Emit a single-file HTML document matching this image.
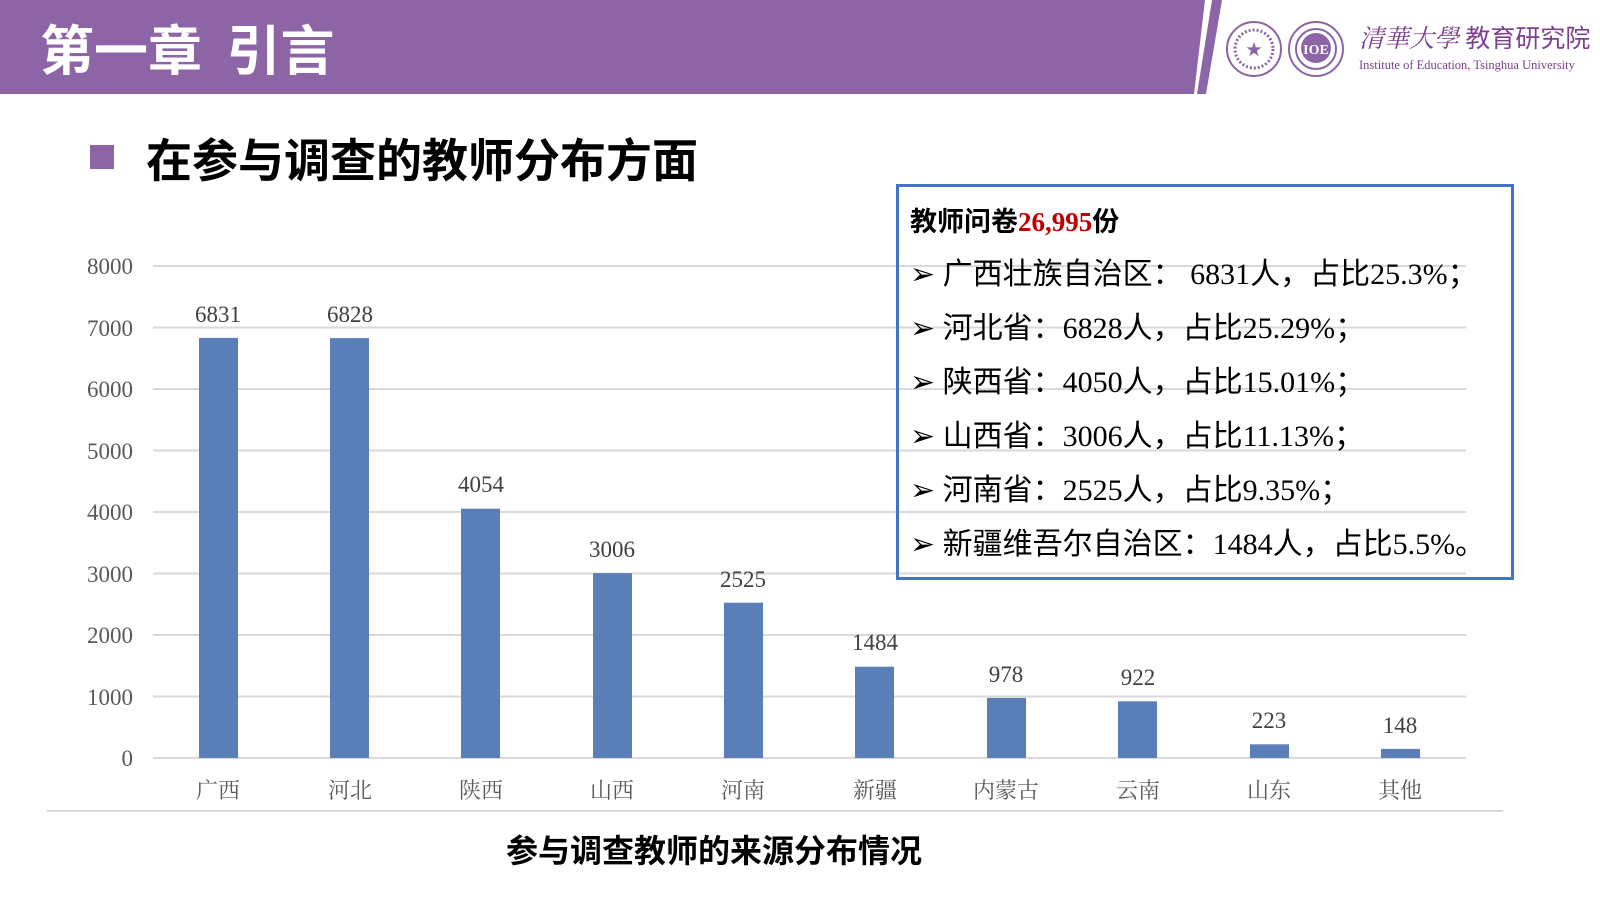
<!DOCTYPE html>
<html><head><meta charset="utf-8">
<style>
body{margin:0;width:1600px;height:900px;background:#fff;overflow:hidden;position:relative;font-family:"Liberation Sans","Noto Sans CJK SC",sans-serif}
.abs{position:absolute;white-space:nowrap}
</style></head><body>
<svg class="abs" style="left:0;top:0" width="1600" height="900">
<polygon points="0,0 1205,0 1194,94 0,94" fill="#8d64a5"/>
<polygon points="1212,0 1222,0 1206,94 1197,94" fill="#8d64a5"/>
<g stroke="#d9d9d9" stroke-width="2">
<line x1="153" x2="1466" y1="266" y2="266"/>
<line x1="153" x2="1466" y1="327.5" y2="327.5"/>
<line x1="153" x2="1466" y1="389" y2="389"/>
<line x1="153" x2="1466" y1="450.5" y2="450.5"/>
<line x1="153" x2="1466" y1="512" y2="512"/>
<line x1="153" x2="1466" y1="573.5" y2="573.5"/>
<line x1="153" x2="1466" y1="635" y2="635"/>
<line x1="153" x2="1466" y1="696.5" y2="696.5"/>
<line x1="153" x2="1466" y1="758" y2="758"/>
<line x1="47" x2="1503" y1="811" y2="811"/>
</g>
<g fill="#5a7fb8">
<rect x="199" y="337.9" width="39" height="420.1"/>
<rect x="330" y="338.1" width="39" height="419.9"/>
<rect x="461" y="508.7" width="39" height="249.3"/>
<rect x="593" y="573.1" width="39" height="184.9"/>
<rect x="724" y="602.7" width="39" height="155.3"/>
<rect x="855" y="666.7" width="39" height="91.3"/>
<rect x="987" y="697.9" width="39" height="60.1"/>
<rect x="1118" y="701.3" width="39" height="56.7"/>
<rect x="1250" y="744.3" width="39" height="13.7"/>
<rect x="1381" y="748.9" width="39" height="9.1"/>
</g>
<g font-family="Liberation Serif, serif" font-size="23" fill="#404040" text-anchor="middle">
<text x="218" y="322">6831</text><text x="350" y="322">6828</text><text x="481" y="492">4054</text>
<text x="612" y="557">3006</text><text x="743" y="587">2525</text><text x="875" y="650">1484</text>
<text x="1006" y="682">978</text><text x="1138" y="685">922</text><text x="1269" y="728">223</text><text x="1400" y="733">148</text>
</g>
<g font-family="Liberation Serif, serif" font-size="23" fill="#595959" text-anchor="end">
<text x="133" y="274">8000</text><text x="133" y="336">7000</text><text x="133" y="397">6000</text>
<text x="133" y="459">5000</text><text x="133" y="520">4000</text><text x="133" y="582">3000</text>
<text x="133" y="643">2000</text><text x="133" y="705">1000</text><text x="133" y="766">0</text>
</g>
<g font-family="Noto Serif CJK SC, serif" font-size="22" fill="#595959" text-anchor="middle">
<text x="218" y="798">广西</text><text x="350" y="798">河北</text><text x="481" y="798">陕西</text>
<text x="612" y="798">山西</text><text x="743" y="798">河南</text><text x="875" y="798">新疆</text>
<text x="1006" y="798">内蒙古</text><text x="1138" y="798">云南</text><text x="1269" y="798">山东</text><text x="1400" y="798">其他</text>
</g>
<rect x="897.5" y="185.5" width="615" height="393" fill="none" stroke="#4472c4" stroke-width="3"/>
<g fill="none" stroke="#8d64a5">
<circle cx="1254" cy="49" r="27" stroke-width="2"/><circle cx="1254" cy="49" r="19" stroke-width="3" stroke-dasharray="2 2"/>
<circle cx="1316" cy="49" r="27" stroke-width="2"/><circle cx="1316" cy="49" r="20" stroke-width="2"/>
</g>
<circle cx="1316" cy="48" r="15" fill="#8d64a5"/>
<text x="1316" y="54" font-family="Liberation Serif,serif" font-size="14" fill="#fff" text-anchor="middle" font-weight="bold">IOE</text>
<text x="1254" y="55" font-size="16" fill="#8d64a5" text-anchor="middle">★</text>
</svg>
<div class="abs" style="left:40px;top:14px;font-size:54px;font-weight:bold;color:#fff;font-family:'Noto Sans CJK SC',sans-serif;line-height:66px">第一章&nbsp;&nbsp;引言</div>
<div class="abs" style="left:90px;top:145px;width:24px;height:24px;background:#8d64a5"></div>
<div class="abs" style="left:146px;top:128px;font-size:46px;font-weight:bold;color:#000;font-family:'Noto Sans CJK SC',sans-serif;line-height:60px">在参与调查的教师分布方面</div>
<div class="abs" style="left:1359px;top:20px;font-size:25px;color:#7d3f8f;font-family:'Noto Serif CJK SC',serif;line-height:34px"><i>清華大學</i> <span style="font-family:'Noto Sans CJK SC',sans-serif">教育研究院</span></div>
<div class="abs" style="left:1359px;top:58px;font-size:12.5px;color:#7d3f8f;font-family:'Liberation Serif',serif">Institute of Education, Tsinghua University</div>
<div class="abs" style="left:910px;top:202px;font-size:27px;font-weight:bold;font-family:'Noto Sans CJK SC',sans-serif;line-height:36px">教师问卷<span style="color:#c00000;font-family:'Liberation Serif',serif">26,995</span>份</div>
<div class="abs" style="left:910px;top:248px;font-size:30px;line-height:54px;color:#000;font-family:'Liberation Serif','Noto Sans CJK SC',sans-serif">
<div>➢ 广西壮族自治区： 6831人，占比25.3%；</div>
<div>➢ 河北省：6828人，占比25.29%；</div>
<div>➢ 陕西省：4050人，占比15.01%；</div>
<div>➢ 山西省：3006人，占比11.13%；</div>
<div>➢ 河南省：2525人，占比9.35%；</div>
<div>➢ 新疆维吾尔自治区：1484人，占比5.5%。</div>
</div>
<div class="abs" style="left:0;width:1428px;text-align:center;top:828px;font-size:32px;font-weight:bold;font-family:'Noto Sans CJK SC',sans-serif;line-height:42px">参与调查教师的来源分布情况</div>
</body></html>
